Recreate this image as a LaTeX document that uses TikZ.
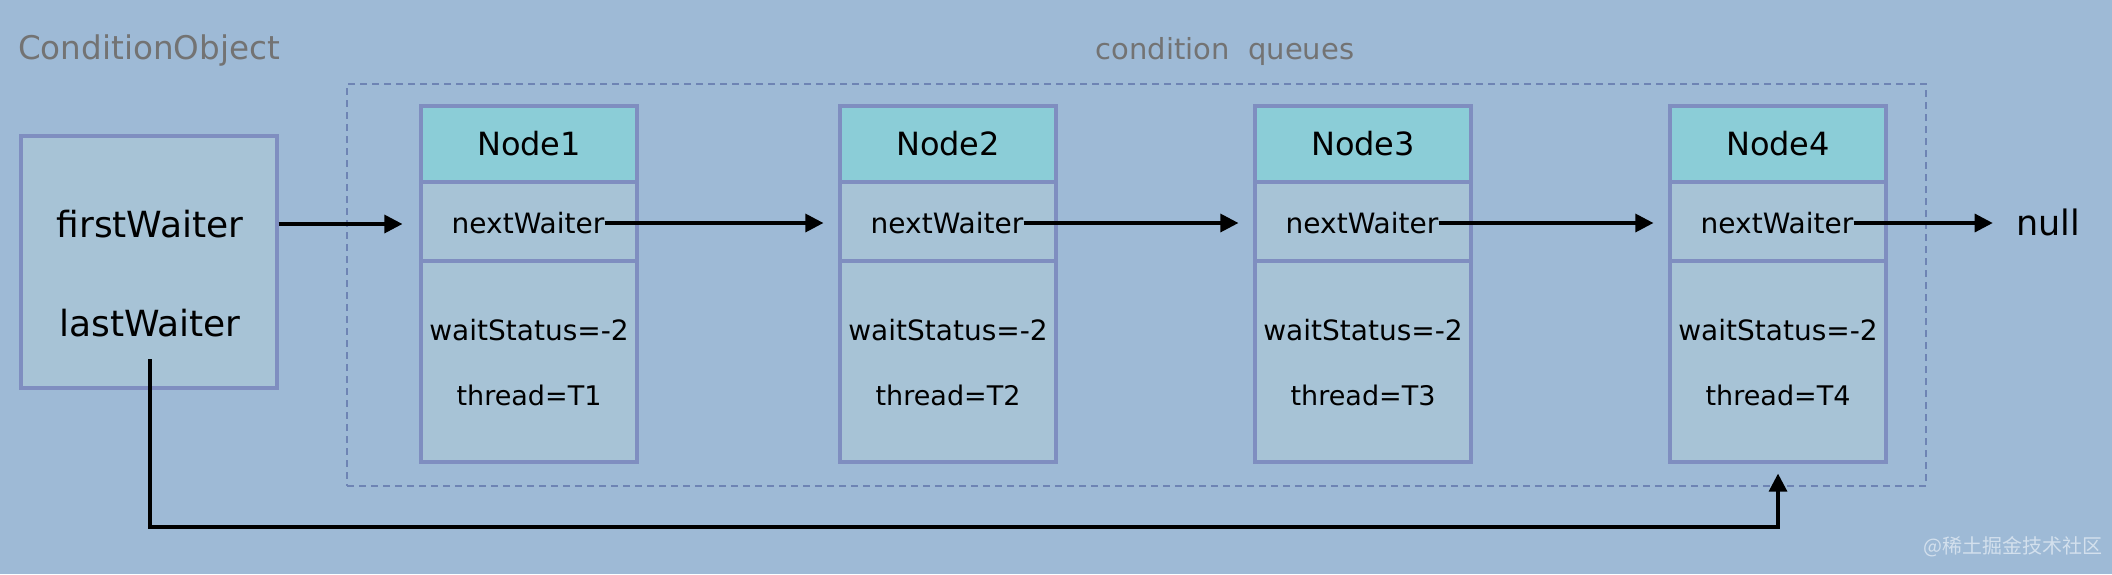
\documentclass[tikz,border=0pt]{standalone}
\usepackage{fontspec}
\setmainfont{DejaVu Sans}
\newfontfamily\cjk{Noto Sans CJK SC}
\usetikzlibrary{arrows.meta,calc}
\definecolor{bg}{HTML}{9EBAD6}
\definecolor{boxfill}{HTML}{A7C3D6}
\definecolor{hdrfill}{HTML}{8BCDD7}
\definecolor{border}{HTML}{7F8EC0}
\definecolor{dashc}{HTML}{6E84B4}
\definecolor{greytxt}{HTML}{737373}
\begin{document}
\begin{tikzpicture}[x=0.5pt,y=-0.5pt,
  box/.style={draw=border, line width=1.6pt, fill=boxfill, minimum width=108pt, inner sep=0pt},
  hdr/.style={box, fill=hdrfill, minimum height=38pt, font=\fontsize{16}{18}\selectfont},
  rowbox/.style={box, minimum height=39.5pt},
  bodybox/.style={box, minimum height=100.5pt},
  field/.style={inner sep=0pt, font=\fontsize{14}{16}\selectfont},
  big/.style={inner sep=0pt, font=\fontsize{18}{20}\selectfont},
  grey/.style={inner sep=0pt, text=greytxt, font=\fontsize{14.5}{16}\selectfont},
  conn/.style={line width=1.6pt, -{Triangle[length=9pt,width=9pt]}},
  queue/.style={draw=dashc, line width=0.8pt, dash pattern=on 3.5pt off 2.5pt, minimum width=789.5pt, minimum height=201pt, inner sep=0pt}
]
\fill[bg] (0,0) rectangle (2112,574);
\useasboundingbox (0,0) rectangle (2112,574);

% labels
\node[grey, font=\fontsize{16.3}{18}\selectfont] (colabel) at (149,51) {ConditionObject};
\node[grey] (cqlabel) at (1225,51) {condition\ \ queues};

% dashed container
\node[queue] (cq) at (1136.5,285) {};

% ConditionObject box
\node[box, minimum width=128pt, minimum height=126pt] (co) at (149,262) {};
\node[big] (fw) at (150,224) {firstWaiter};
\node[big] (lw) at (150,323) {lastWaiter};

% queue nodes
\foreach \i/\x in {1/529,2/948,3/1363,4/1778}{
  \node[hdr] (h\i) at (\x,144) {Node\i};
  \node[rowbox] (r\i) at (\x,221.5) {};
  \node[bodybox] (b\i) at (\x,361.5) {};
  \node[field] (t\i) at (\x-1,223) {nextWaiter};
  \node[field] (ws\i) at (\x,330) {waitStatus=-2};
  \node[field, font=\fontsize{13.5}{16}\selectfont] (th\i) at (\x,395) {thread=T\i};
}

\node[big, font=\fontsize{17.5}{20}\selectfont] (null) at (2048,222) {null};

% connectors
\draw[conn, shorten >=8.5pt] (fw.east -| co.east) -- (fw.east -| r1.west);
\draw[conn, shorten >=7.5pt] (t1.east) -- (t1.east -| r2.west);
\draw[conn, shorten >=7.5pt] (t2.east) -- (t2.east -| r3.west);
\draw[conn, shorten >=7.5pt] (t3.east) -- (t3.east -| r4.west);
\draw[conn, shorten >=11.5pt] (t4.east) -- (t4.east -| null.west);

\coordinate (ybot) at (0,527);
\coordinate (turn) at (b4.south |- ybot);
\draw[conn, shorten <=11pt, shorten >=5pt] (lw.south) |- (turn) -- (b4.south);

% watermark
\node[inner sep=0pt, text=white!55!bg, font=\cjk\fontsize{10}{12}\selectfont] (wm) at (2013,547) {@稀土掘金技术社区};
\end{tikzpicture}
\end{document}
